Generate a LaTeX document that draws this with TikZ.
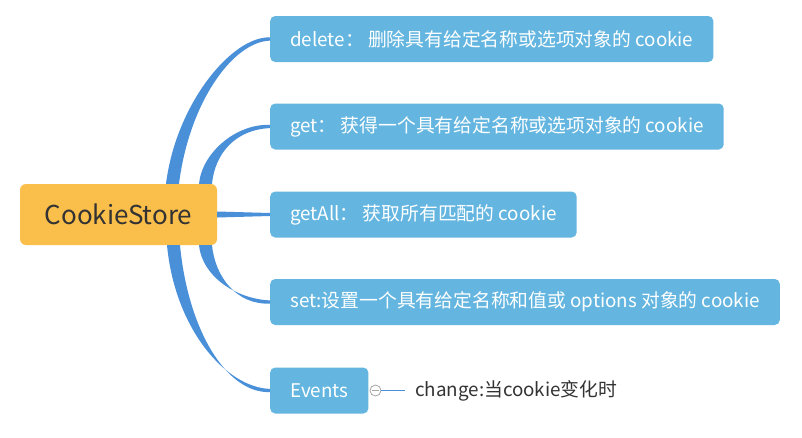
\documentclass[tikz,border=0pt]{standalone}
\usepackage{fontspec}
\setmainfont{Noto Sans CJK SC}
\usepackage{xcolor}
\usetikzlibrary{calc,positioning}

\definecolor{rootfill}{RGB}{250,190,75}
\definecolor{leaffill}{RGB}{100,182,224}
\definecolor{twigblue}{RGB}{74,144,217}
\definecolor{inkgray}{RGB}{51,51,51}

\tikzset{
  rootbox/.style={fill=rootfill, rounded corners=6pt, minimum width=197pt,
    minimum height=61pt, text=inkgray, font=\fontsize{26}{30}\selectfont},
  leafbox/.style={fill=leaffill, rounded corners=5pt, minimum height=46pt,
    inner xsep=20pt, anchor=west, text=white, font=\fontsize{18.8}{22}\selectfont},
  twig/.style={fill=twigblue},
  foldmark/.style={circle, draw=gray!70, fill=white, line width=0.8pt,
    minimum size=11pt, inner sep=0pt},
}

% tapered branch: from #1 to #2, first handle #3, second handle #4
\newcommand\twig[4]{%
  \path (#1) coordinate (s) (#2) coordinate (e);
  \fill[twig] ($(s)+(-6.5,0)$) .. controls ($(s)+#3+(-6.5,0)$) and ($(e)+#4+(0,-3)$) .. ($(e)+(0,-1.6)$)
    -- ($(e)+(0,1.6)$) .. controls ($(e)+#4+(0,3)$) and ($(s)+#3+(6.5,0)$) .. ($(s)+(6.5,0)$) -- cycle;
}

\begin{document}
\begin{tikzpicture}[x=1pt,y=1pt,yscale=-1]
\useasboundingbox (0,0) rectangle (802,437);

% Root
\node[rootbox] (root) at (118.5,214.5) {CookieStore};

% Leaves
\node[leafbox] (delete) at (270,39) {delete： 删除具有给定名称或选项对象的 cookie};
\node[leafbox] (get) at (270,126.5) {get： 获得一个具有给定名称或选项对象的 cookie};
\node[leafbox] (getall) at (270,214.5) {getAll： 获取所有匹配的 cookie};
\node[leafbox] (set) at (270,302) {set:设置一个具有给定名称和值或 options 对象的 cookie};
\node[leafbox] (events) at (270,390.5) {Events};

% Branches
\twig{$(root.north)+(54,0)$}{delete.west}{(10,-80)}{(-38,0)}
\twig{$(root.north)+(87,0)$}{get.west}{(3,-31)}{(-34,0)}
\twig{$(root.south)+(87,0)$}{set.west}{(3,31)}{(-34,0)}
\twig{$(root.south)+(55,0)$}{events.west}{(8,84)}{(-44,0)}
\fill[twig] ($(root.east)+(0,-3)$) -- ($(getall.west)+(0,-1.5)$) -- ($(getall.west)+(0,1.5)$) -- ($(root.east)+(0,3)$) -- cycle;

% Events child
\node[foldmark, right=1pt of events] (fold) {};
\draw[gray!70, line width=0.8pt] ([xshift=2.5pt]fold.west) -- ([xshift=-2.5pt]fold.east);
\node[anchor=west, inner xsep=10pt, text=inkgray, font=\fontsize{18.8}{22}\selectfont] (change) at (405,390.5) {change:当cookie变化时};
\draw[twigblue, line width=1pt] (fold) -- (change);
\end{tikzpicture}
\end{document}
